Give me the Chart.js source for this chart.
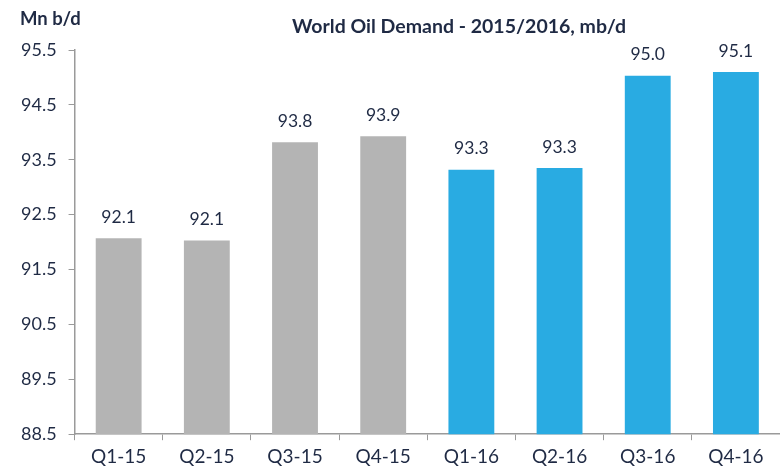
<!DOCTYPE html>
<html><head><meta charset="utf-8">
<script src="https://cdn.jsdelivr.net/npm/chart.js@4/dist/chart.umd.min.js"></script>
<style>html,body{margin:0;padding:0;background:#fff}#wrap{width:780px;height:474px}</style>
</head><body><div id="wrap"><canvas id="c" width="780" height="474"></canvas></div>
<script>
const categories = ["Q1-15","Q2-15","Q3-15","Q4-15","Q1-16","Q2-16","Q3-16","Q4-16"];
const demand = [92.07, 92.03, 93.82, 93.93, 93.32, 93.35, 95.03, 95.1];
const valueLabels = ["92.1","92.1","93.8","93.9","93.3","93.3","95.0","95.1"];
const yTicks = [88.5, 89.5, 90.5, 91.5, 92.5, 93.5, 94.5, 95.5];
const titleText = "World Oil Demand - 2015/2016, mb/d";
const unitText = "Mn b/d";

const TXT = "#1f2a44";
const FONT = "Lato, 'Open Sans', sans-serif";
const colors = categories.map(c => c.endsWith("-15") ? "#b4b4b4" : "#29abe2");

const labelsPlugin = {
  id: "labels",
  afterDatasetsDraw(chart) {
    const ctx = chart.ctx;
    const meta = chart.getDatasetMeta(0);
    ctx.save();
    ctx.fillStyle = TXT;
    ctx.font = "17.5px " + FONT;
    ctx.textAlign = "center";
    ctx.textBaseline = "middle";
    meta.data.forEach((el, i) => ctx.fillText(valueLabels[i], el.x, el.y - 21));
    ctx.font = "bold 18.5px " + FONT;
    ctx.textAlign = "left";
    ctx.fillText(unitText, 20, 19);
    ctx.textAlign = "center";
    ctx.font = "bold 19.5px " + FONT;
    ctx.fillText(titleText, 459, 27);
    ctx.restore();
  }
};

new Chart(document.getElementById("c"), {
  type: "bar",
  data: { labels: categories, datasets: [{ data: demand, backgroundColor: colors, barPercentage: 0.52, categoryPercentage: 1.0 }] },
  options: {
    responsive: false, animation: false,
    layout: { padding: { top: 50, right: -7, left: 9, bottom: 1 } },
    plugins: { legend: { display: false }, tooltip: { enabled: false } },
    scales: {
      x: {
        grid: { display: true, drawOnChartArea: false, drawTicks: true, tickLength: 6, color: "#9a9a9a", offset: true },
        border: { display: true, color: "#9a9a9a", width: 1.5 },
        ticks: { color: TXT, font: { size: 19, family: FONT }, padding: 5 }
      },
      y: {
        min: 88.5, max: 95.5,
        afterBuildTicks(axis) { axis.ticks = yTicks.map(v => ({ value: v })); },
        grid: { display: true, drawOnChartArea: false, drawTicks: true, tickLength: 6, color: "#9a9a9a" },
        border: { display: true, color: "#9a9a9a", width: 1.5 },
        ticks: { color: TXT, font: { size: 18, family: FONT }, padding: 12, callback: v => Number(v).toFixed(1) }
      }
    }
  },
  plugins: [labelsPlugin]
});
</script></body></html>
